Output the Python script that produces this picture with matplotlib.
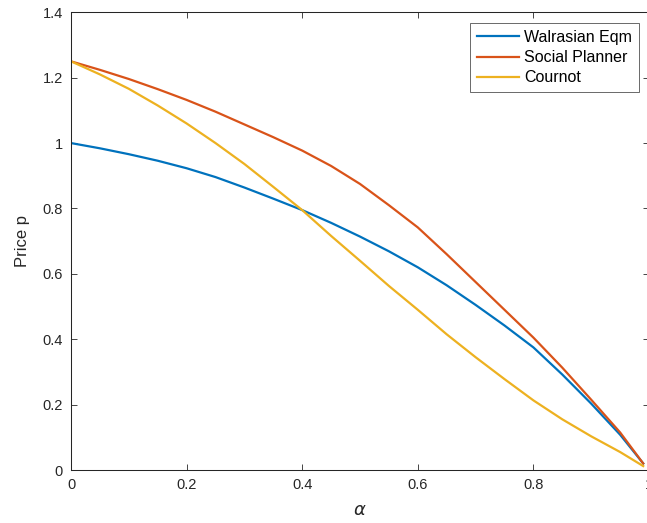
import matplotlib
matplotlib.use("Agg")
import matplotlib.pyplot as plt

# --- values ---
alpha = [0.0, 0.05, 0.1, 0.15, 0.2, 0.25, 0.3, 0.35, 0.4, 0.45, 0.5,
         0.55, 0.6, 0.65, 0.7, 0.75, 0.8, 0.85, 0.9, 0.95, 0.99]
walrasian = [1.0, 0.984, 0.966, 0.946, 0.923, 0.896, 0.864, 0.83, 0.795, 0.756, 0.714,
             0.669, 0.62, 0.565, 0.505, 0.442, 0.375, 0.292, 0.203, 0.108, 0.02]
planner = [1.25, 1.224, 1.196, 1.165, 1.132, 1.096, 1.057, 1.018, 0.977, 0.93, 0.875,
           0.81, 0.742, 0.66, 0.575, 0.49, 0.405, 0.313, 0.215, 0.115, 0.02]
cournot = [1.25, 1.21, 1.166, 1.115, 1.06, 1.0, 0.936, 0.866, 0.795, 0.716, 0.64,
           0.563, 0.49, 0.415, 0.345, 0.278, 0.213, 0.155, 0.103, 0.055, 0.012]

labels = ["Walrasian Eqm", "Social Planner", "Cournot"]
colors = ["#0072BD", "#D95319", "#EDB120"]

plt.rcParams['font.family'] = ['Liberation Sans', 'DejaVu Sans']
plt.rcParams['mathtext.fontset'] = 'dejavusans'

fig = plt.figure(figsize=(6.47, 5.23), dpi=100)
ax = fig.add_axes([71 / 647, 53 / 523, 578 / 647, 457.7 / 523])

for ys, lab, c in zip([walrasian, planner, cournot], labels, colors):
    ax.plot(alpha, ys, color=c, lw=1.6, label=lab)

ax.set_xlim(0, 1)
ax.set_ylim(0, 1.4)
ax.set_xticks([0, 0.2, 0.4, 0.6, 0.8, 1.0])
ax.set_xticklabels(["0", "0.2", "0.4", "0.6", "0.8", "1"])
ax.set_yticks([0, 0.2, 0.4, 0.6, 0.8, 1.0, 1.2, 1.4])
ax.set_yticklabels(["0", "0.2", "0.4", "0.6", "0.8", "1", "1.2", "1.4"])

for s in ax.spines.values():
    s.set_color("#262626")
    s.set_linewidth(0.75)
ax.tick_params(direction="in", length=4, width=0.6, color="#262626",
               labelsize=10.5, labelcolor="#262626", top=True, right=True,
               pad=6)

ax.set_xlabel(r"$\alpha$", fontsize=13, color="#262626", labelpad=7)
ax.set_ylabel("Price p", fontsize=12, color="#262626", labelpad=9)

leg = ax.legend(loc="upper right", bbox_to_anchor=(0.983, 0.977), fontsize=11.5,
                frameon=True, fancybox=False, handlelength=2.6, handletextpad=0.35,
                borderpad=0.45, labelspacing=0.32, borderaxespad=0)
leg.get_frame().set_edgecolor("#262626")
leg.get_frame().set_linewidth(0.6)

fig.savefig("out.png", dpi=100)
